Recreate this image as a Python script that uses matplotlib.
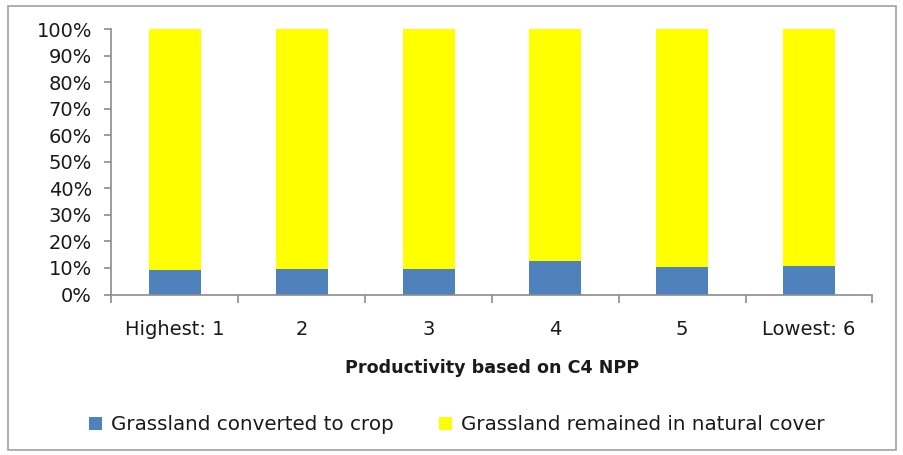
import matplotlib.pyplot as plt
from matplotlib.patches import Rectangle
import numpy as np

categories = ["Highest: 1", "2", "3", "4", "5", "Lowest: 6"]
converted = [9.2, 9.7, 9.7, 12.8, 10.4, 10.9]
remained = [100 - v for v in converted]

blue = '#4f81bd'
yellow = '#ffff00'
grey = '#8c8c8c'
txt = '#1a1a1a'

fig = plt.figure(figsize=(9.04, 4.55), dpi=100)
ax = fig.add_axes([0.1233, 0.3527, 0.8418, 0.5835])

# outer chart frame
fig.patches.append(Rectangle((0.009, 0.012), 0.982, 0.974, transform=fig.transFigure,
                             fill=False, edgecolor='#a0a0a0', lw=1.2))

x = np.arange(len(categories))
ax.bar(x, converted, width=0.41, color=blue, label='Grassland converted to crop')
ax.bar(x, remained, width=0.41, bottom=converted, color=yellow,
       label='Grassland remained in natural cover')

ax.set_xlim(-0.5, len(categories) - 0.5)
ax.set_ylim(0, 100)
ax.set_yticks(np.arange(0, 101, 10))
ax.set_yticklabels(["{}%".format(v) for v in range(0, 101, 10)])

# category boundaries get tick marks, labels sit at centres
ax.set_xticks(np.arange(-0.5, len(categories), 1.0))
ax.set_xticklabels([])
ax.set_xticks(x, minor=True)
ax.set_xticklabels(categories, minor=True)
ax.tick_params(axis='x', which='major', direction='out', length=6, color=grey, width=1.2)
ax.tick_params(axis='x', which='minor', length=0, pad=18, labelsize=14, labelcolor=txt)
ax.tick_params(axis='y', direction='out', length=5, color=grey, width=1.2, pad=9,
               labelsize=14, labelcolor=txt)

for side in ['top', 'right']:
    ax.spines[side].set_visible(False)
for side in ['left', 'bottom']:
    ax.spines[side].set_color(grey)
    ax.spines[side].set_linewidth(1.2)

fig.text(0.544, 0.191, "Productivity based on C4 NPP", ha='center', va='center',
         fontsize=12.6, fontweight='bold', color=txt, family='DejaVu Sans')

fig.legend(loc='center', bbox_to_anchor=(0.5055, 0.066), ncol=2, frameon=False,
           fontsize=14.3, handlelength=0.65, handleheight=0.65, handletextpad=0.45,
           columnspacing=2.3, labelcolor=txt)

plt.savefig('out.png', dpi=100)
plt.close('all')
